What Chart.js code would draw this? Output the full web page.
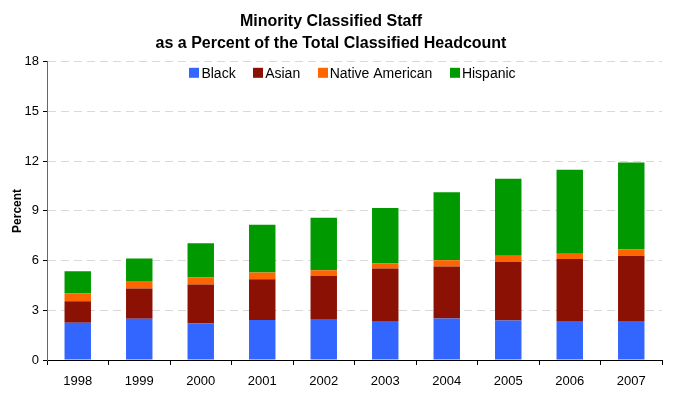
<!DOCTYPE html>
<html>
<head>
<meta charset="utf-8">
<script src="https://cdn.jsdelivr.net/npm/chart.js@4/dist/chart.umd.min.js"></script>
<style>
    html, body { margin: 0; padding: 0; background: #fff; }
    #wrap { width: 677px; height: 393px; }
</style>
</head>
<body>
<div id="wrap"><canvas id="staffChart" width="677" height="393"></canvas></div>
<script>
// Minority classified staff, percent of total classified headcount
const years = ['1998', '1999', '2000', '2001', '2002', '2003', '2004', '2005', '2006', '2007'];
const black = [2.25, 2.49, 2.21, 2.41, 2.47, 2.35, 2.51, 2.39, 2.35, 2.35];
const asian = [1.30, 1.83, 2.35, 2.47, 2.61, 3.17, 3.13, 3.53, 3.75, 3.95];
const nativeAmerican = [0.48, 0.45, 0.44, 0.40, 0.34, 0.32, 0.38, 0.38, 0.32, 0.38];
const hispanic = [1.33, 1.35, 2.04, 2.89, 3.17, 3.33, 4.11, 4.64, 5.06, 5.24];
const yTicks = [0, 3, 6, 9, 12, 15, 18];

const FONT = 'Arial, "Liberation Sans", sans-serif';

function makeSet(label, data, color) {
    return {
        label: label,
        data: data,
        backgroundColor: color,
        borderWidth: 0,
        barPercentage: 0.43,
        categoryPercentage: 1.0
    };
}

// Horizontal legend drawn inside the top of the plot area
const insideLegend = {
    id: 'insideLegend',
    afterDraw(chart) {
        const c = chart.ctx;
        const area = chart.chartArea;
        const boxW = 10, boxH = 10, textGap = 2, itemGap = 17.5;
        c.save();
        c.font = '14px ' + FONT;
        c.textBaseline = 'middle';
        const items = chart.data.datasets.map(ds => ({
            label: ds.label,
            color: ds.backgroundColor,
            width: boxW + textGap + c.measureText(ds.label).width
        }));
        const total = items.reduce((s, it) => s + it.width, 0) + itemGap * (items.length - 1);
        let x = (area.left + area.right) / 2 - 2 - total / 2;
        const y = area.top + 11;
        items.forEach(it => {
            c.fillStyle = it.color;
            c.fillRect(Math.round(x), y - boxH / 2, boxW, boxH);
            c.fillStyle = '#000';
            c.fillText(it.label, x + boxW + textGap, y + 1);
            x += it.width + itemGap;
        });
        c.restore();
    }
};

document.addEventListener('DOMContentLoaded', function() {
    const ctx = document.getElementById('staffChart').getContext('2d');

    new Chart(ctx, {
        type: 'bar',
        data: {
            labels: years,
            datasets: [
                makeSet('Black', black, '#3366FF'),
                makeSet('Asian', asian, '#8B1104'),
                makeSet('Native American', nativeAmerican, '#FF6600'),
                makeSet('Hispanic', hispanic, '#009900')
            ]
        },
        plugins: [insideLegend],
        options: {
            responsive: false,
            animation: false,
            layout: { padding: { left: 0, right: 15, top: 0, bottom: 0 } },
            plugins: {
                title: {
                    display: true,
                    text: ['Minority Classified Staff', 'as a Percent of the Total Classified Headcount'],
                    color: '#000',
                    font: { family: FONT, size: 16, weight: 'bold', lineHeight: 1.4 },
                    padding: { top: 10, bottom: 7 }
                },
                legend: { display: false },
                tooltip: { enabled: false }
            },
            scales: {
                x: {
                    stacked: true,
                    afterFit: function(scale) { scale.height = 33; },
                    grid: {
                        offset: true,
                        drawOnChartArea: false,
                        drawTicks: true,
                        tickLength: 5,
                        tickColor: '#000'
                    },
                    border: { display: true, color: '#000', width: 1 },
                    ticks: {
                        color: '#000',
                        padding: 9,
                        maxRotation: 0,
                        font: { family: FONT, size: 13 }
                    }
                },
                y: {
                    stacked: true,
                    min: 0,
                    max: 18,
                    afterFit: function(scale) { scale.width = 47; },
                    afterBuildTicks: function(scale) {
                        scale.ticks = yTicks.map(v => ({ value: v }));
                    },
                    title: {
                        display: true,
                        text: 'Percent',
                        color: '#000',
                        font: { family: FONT, size: 12, weight: 'bold' },
                        padding: { top: 10, bottom: 0 }
                    },
                    grid: {
                        color: '#d9d9d9',
                        lineWidth: 1,
                        drawTicks: true,
                        tickLength: 4,
                        tickColor: '#000',
                        tickBorderDash: []
                    },
                    border: { display: true, color: '#666', width: 1, dash: [8, 5] },
                    ticks: {
                        color: '#000',
                        padding: 4,
                        font: { family: FONT, size: 13 }
                    }
                }
            }
        }
    });
});
</script>
</body>
</html>
